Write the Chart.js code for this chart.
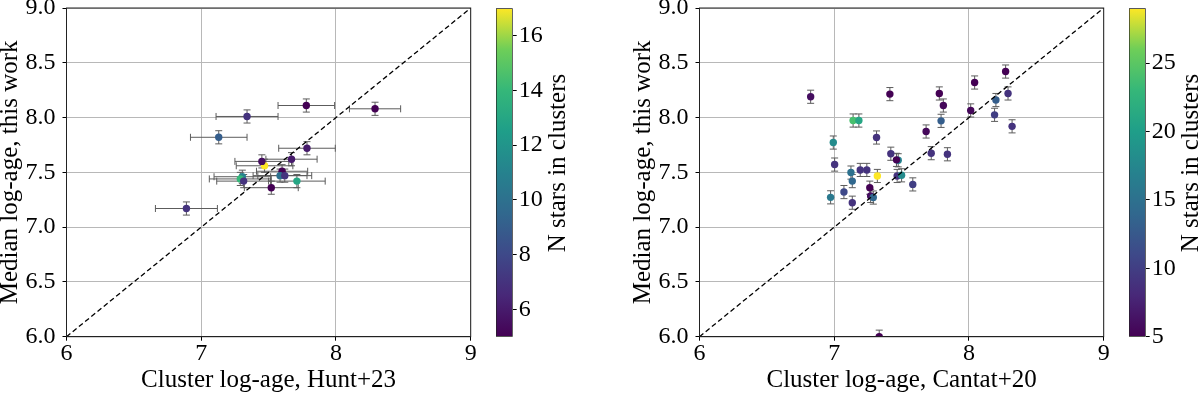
<!DOCTYPE html>
<html>
<head>
<meta charset="utf-8">
<script src="https://cdn.jsdelivr.net/npm/chart.js@4.4.0/dist/chart.umd.min.js"></script>
<style>
  html, body { margin: 0; padding: 0; background: #fff; overflow: hidden; }
  #wrap { position: relative; width: 1200px; height: 395px; overflow: hidden; }
  canvas { position: absolute; top: -20px; }
</style>
</head>
<body>
<div id="wrap">
  <canvas id="hunt" width="483" height="415"></canvas>
  <canvas id="huntCb" width="80" height="415"></canvas>
  <canvas id="cantat" width="483" height="415"></canvas>
  <canvas id="cantatCb" width="80" height="415"></canvas>
</div>
<script>
// Left panel: Hunt+23 ages vs ours
const huntX    = [7.78, 8.29, 7.34, 7.13, 7.785, 7.67, 7.47, 7.45, 7.60, 7.585, 7.62, 7.71, 7.305, 7.29, 7.315, 7.52, 6.89];
const huntY    = [8.11, 8.08, 8.01, 7.82, 7.72, 7.62, 7.56, 7.60, 7.51, 7.47, 7.47, 7.42, 7.46, 7.44, 7.42, 7.36, 7.17];
const huntXErr = [0.21, 0.19, 0.23, 0.21, 0.21, 0.19, 0.21, 0.20, 0.19, 0.20, 0.20, 0.21, 0.21, 0.23, 0.20, 0.20, 0.23];
const huntYErr = [0.06, 0.06, 0.06, 0.06, 0.06, 0.06, 0.06, 0.06, 0.06, 0.06, 0.06, 0.06, 0.06, 0.06, 0.06, 0.06, 0.06];
const huntN    = [5, 5, 7, 9, 6, 6, 17, 5.5, 5, 10, 7, 13, 11, 14, 7, 5, 7];

// Right panel: Cantat+20 ages vs ours (no x errors)
const cantatX    = [6.825, 7.413, 7.78, 7.81, 8.042, 8.272, 8.29, 8.20, 8.013, 8.19, 8.32, 7.793, 7.682, 7.72, 7.84,
                    7.14, 7.183, 7.314, 6.993, 7.003, 7.42, 7.475, 7.462, 7.193, 7.242, 7.124, 7.134, 7.32, 7.467,
                    7.50, 7.583, 7.264, 7.27, 7.29, 7.072, 6.973, 7.134, 7.334];
const cantatY    = [8.19, 8.214, 8.22, 8.11, 8.32, 8.42, 8.22, 8.16, 8.065, 8.025, 7.92, 7.97, 7.873, 7.675, 7.665,
                    7.973, 7.973, 7.818, 7.772, 7.571, 7.67, 7.61, 7.614, 7.522, 7.522, 7.498, 7.42, 7.467, 7.467,
                    7.473, 7.39, 7.36, 7.285, 7.27, 7.32, 7.272, 7.223, 6.0];
const cantatYErr = [0.06, 0.06, 0.06, 0.06, 0.06, 0.06, 0.06, 0.06, 0.06, 0.06, 0.06, 0.06, 0.06, 0.06, 0.06,
                    0.06, 0.06, 0.06, 0.06, 0.06, 0.06, 0.06, 0.06, 0.06, 0.06, 0.06, 0.06, 0.06, 0.06,
                    0.06, 0.06, 0.06, 0.06, 0.06, 0.06, 0.06, 0.06, 0.06];
const cantatN    = [6, 5, 5, 5.5, 5, 5, 9, 13, 5.5, 10, 9, 13, 5.5, 9, 9,
                    24, 21, 9, 18, 9, 9, 17, 5, 9, 9, 15, 14, 29, 9,
                    18, 10, 5, 6, 14, 11, 16, 9, 5];

// axes
const xTicks = [6, 7, 8, 9];
const yTicks = [6.0, 6.5, 7.0, 7.5, 8.0, 8.5, 9.0];
const diagonal = [6, 9];
const huntCbRange = [5, 17];
const huntCbTicks = [6, 8, 10, 12, 14, 16];
const cantatCbRange = [5, 29];
const cantatCbTicks = [5, 10, 15, 20, 25];

const VIRIDIS = ['#440154', '#482878', '#3e4989', '#31688e', '#26828e', '#1f9e89', '#35b779', '#6ece58', '#fde725'];
const FAMILY = '"Liberation Serif", "Times New Roman", serif';
const FONT = { family: FAMILY, size: 24, lineHeight: 1 };
const TITLE_FONT = { family: FAMILY, size: 25, lineHeight: 1 };

function hexRgb(h) {
    return [1, 3, 5].map(i => parseInt(h.substr(i, 2), 16));
}

function viridis(t) {
    t = Math.max(0, Math.min(1, t));
    const pos = t * (VIRIDIS.length - 1);
    const i = Math.min(Math.floor(pos), VIRIDIS.length - 2);
    const f = pos - i;
    const a = hexRgb(VIRIDIS[i]), b = hexRgb(VIRIDIS[i + 1]);
    const c = a.map((v, k) => Math.round(v + (b[k] - v) * f));
    return `rgb(${c[0]},${c[1]},${c[2]})`;
}

// error bars drawn under the markers, clipped to the axes box
const errorBars = {
    id: 'errorBars',
    beforeDatasetsDraw(chart) {
        const { ctx, chartArea: a, scales: { x, y } } = chart;
        ctx.save();
        ctx.beginPath();
        ctx.rect(a.left, a.top, a.right - a.left, a.bottom - a.top);
        ctx.clip();
        ctx.strokeStyle = '#5c5c5c';
        ctx.lineWidth = 1;
        chart.data.datasets.forEach(ds => {
            if (!ds.yerr) return;
            ds.data.forEach((p, i) => {
                const px = x.getPixelForValue(p.x);
                const py = y.getPixelForValue(p.y);
                ctx.beginPath();
                if (ds.xerr) {
                    const x0 = x.getPixelForValue(p.x - ds.xerr[i]);
                    const x1 = x.getPixelForValue(p.x + ds.xerr[i]);
                    ctx.moveTo(x0, py); ctx.lineTo(x1, py);
                    ctx.moveTo(x0, py - 3.5); ctx.lineTo(x0, py + 3.5);
                    ctx.moveTo(x1, py - 3.5); ctx.lineTo(x1, py + 3.5);
                }
                const y0 = y.getPixelForValue(p.y - ds.yerr[i]);
                const y1 = y.getPixelForValue(p.y + ds.yerr[i]);
                ctx.moveTo(px, y0); ctx.lineTo(px, y1);
                ctx.moveTo(px - 3.5, y0); ctx.lineTo(px + 3.5, y0);
                ctx.moveTo(px - 3.5, y1); ctx.lineTo(px + 3.5, y1);
                ctx.stroke();
            });
        });
        ctx.restore();
    }
};

// full box around the axes, like matplotlib spines
const frame = {
    id: 'frame',
    afterDraw(chart) {
        const { ctx, chartArea: a } = chart;
        ctx.save();
        ctx.strokeStyle = '#222';
        ctx.lineWidth = 1;
        ctx.strokeRect(a.left, a.top, a.right - a.left, a.bottom - a.top);
        ctx.restore();
    }
};

// colorbar label reads bottom to top
const cbTitle = {
    id: 'cbTitle',
    afterDraw(chart, args, opts) {
        const ctx = chart.ctx;
        ctx.save();
        ctx.translate(opts.x, opts.y);
        ctx.rotate(-Math.PI / 2);
        ctx.font = `${TITLE_FONT.size}px ${FAMILY}`;
        ctx.fillStyle = '#000';
        ctx.textAlign = 'center';
        ctx.textBaseline = 'middle';
        ctx.fillText(opts.text, 0, 0);
        ctx.restore();
    }
};

function makePanel(id, left, xs, ys, xerr, yerr, ns, range, xTitle) {
    const canvas = document.getElementById(id);
    canvas.style.left = left + 'px';
    const points = xs.map((x, i) => ({ x: x, y: ys[i] }));
    const colors = ns.map(n => viridis((n - range[0]) / (range[1] - range[0])));

    return new Chart(canvas, {
        type: 'scatter',
        data: {
            datasets: [
                {
                    type: 'line',
                    data: diagonal.map(v => ({ x: v, y: v })),
                    borderColor: '#000',
                    borderWidth: 1.3,
                    borderDash: [5, 3],
                    pointRadius: 0,
                    fill: false,
                    clip: 0
                },
                {
                    data: points,
                    xerr: xerr,
                    yerr: yerr,
                    pointBackgroundColor: colors,
                    pointBorderColor: colors,
                    pointBorderWidth: 0,
                    pointRadius: 3.7,
                    clip: 0
                }
            ]
        },
        options: {
            responsive: false,
            animation: false,
            events: [],
            layout: { padding: { top: 28, right: 9.3, left: 0, bottom: 0 } },
            plugins: { legend: { display: false }, tooltip: { enabled: false } },
            scales: {
                x: {
                    type: 'linear', min: 6, max: 9,
                    afterFit: s => { s.height = 58.3; },
                    afterBuildTicks: s => { s.ticks = xTicks.map(v => ({ value: v })); },
                    grid: { color: '#b8b8b8', lineWidth: 1, tickColor: '#000', tickLength: 4 },
                    border: { color: '#222', width: 1 },
                    ticks: { font: FONT, color: '#000', padding: 1, maxRotation: 0 },
                    title: { display: true, text: xTitle, font: TITLE_FONT, color: '#000', padding: { top: 0, bottom: 2.5 } }
                },
                y: {
                    type: 'linear', min: 6, max: 9,
                    afterFit: s => { s.width = 69.5; },
                    afterBuildTicks: s => { s.ticks = yTicks.map(v => ({ value: v })); },
                    grid: { color: '#b8b8b8', lineWidth: 1, tickColor: '#000', tickLength: 4 },
                    border: { color: '#222', width: 1 },
                    ticks: { font: FONT, color: '#000', padding: 7, callback: v => v.toFixed(1) },
                    title: { display: true, text: 'Median log-age, this work', font: TITLE_FONT, color: '#000', padding: { top: 0.5, bottom: 0 } }
                }
            }
        },
        plugins: [errorBars, frame]
    });
}

function makeColorbar(id, left, range, ticks) {
    const canvas = document.getElementById(id);
    canvas.style.left = left + 'px';

    return new Chart(canvas, {
        type: 'bar',
        data: {
            labels: [''],
            datasets: [{
                data: [range],
                backgroundColor: c => {
                    const a = c.chart.chartArea;
                    if (!a) return null;
                    const g = c.chart.ctx.createLinearGradient(0, a.bottom, 0, a.top);
                    VIRIDIS.forEach((col, i) => g.addColorStop(i / (VIRIDIS.length - 1), col));
                    return g;
                },
                borderColor: '#222',
                borderWidth: 1,
                borderSkipped: false,
                barPercentage: 1,
                categoryPercentage: 1
            }]
        },
        options: {
            responsive: false,
            animation: false,
            events: [],
            layout: { padding: { top: 28.3, left: 6, right: 0, bottom: 58.3 } },
            plugins: {
                legend: { display: false },
                tooltip: { enabled: false },
                cbTitle: { text: 'N stars in clusters', x: 68, y: 183 }
            },
            scales: {
                x: { display: false },
                y: {
                    position: 'right',
                    min: range[0], max: range[1],
                    afterFit: s => { s.width = 57.3; },
                    afterBuildTicks: s => { s.ticks = ticks.map(v => ({ value: v })); },
                    grid: { drawOnChartArea: false, tickColor: '#000', tickLength: 4 },
                    border: { display: false },
                    ticks: { font: FONT, color: '#000', padding: 2 }
                }
            }
        },
        plugins: [cbTitle]
    });
}

makePanel('hunt', -3, huntX, huntY, huntXErr, huntYErr, huntN, huntCbRange, 'Cluster log-age, Hunt+23');
makeColorbar('huntCb', 490, huntCbRange, huntCbTicks);
makePanel('cantat', 629.8, cantatX, cantatY, null, cantatYErr, cantatN, cantatCbRange, 'Cluster log-age, Cantat+20');
makeColorbar('cantatCb', 1123.3, cantatCbRange, cantatCbTicks);
</script>
</body>
</html>
